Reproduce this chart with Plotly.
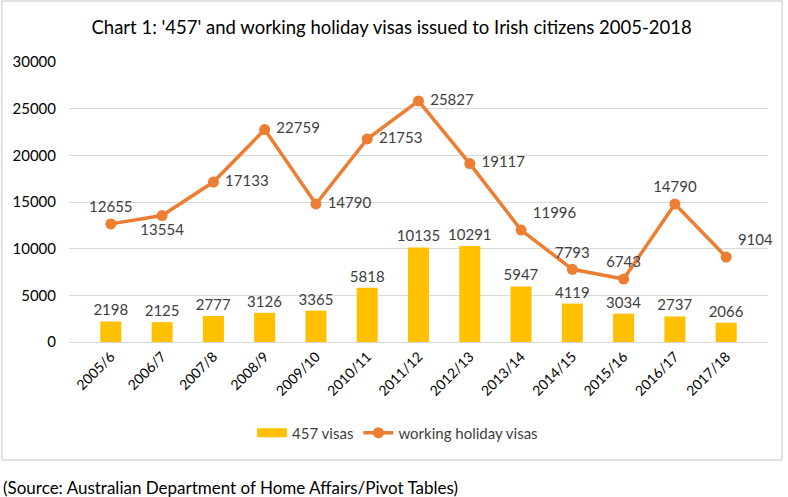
import plotly.graph_objects as go

years = ["2005/6", "2006/7", "2007/8", "2008/9", "2009/10", "2010/11", "2011/12",
         "2012/13", "2013/14", "2014/15", "2015/16", "2016/17", "2017/18"]
visas_457 = [2198, 2125, 2777, 3126, 3365, 5818, 10135, 10291, 5947, 4119, 3034, 2737, 2066]
working_holiday = [12655, 13554, 17133, 22759, 14790, 21753, 25827, 19117, 11996, 7793, 6743, 14790, 9104]
y_ticks = [0, 5000, 10000, 15000, 20000, 25000, 30000]

line_label_pos = ["top center", "bottom center", "middle right", "middle right", "middle right",
                  "middle right", "middle right", "middle right", "top right", "top center",
                  "top center", "top center", "top right"]

FONT = "Lato, 'Open Sans', sans-serif"
BAR_COLOR = "#FFC000"
LINE_COLOR = "#ED7D31"

fig = go.Figure()
fig.add_trace(go.Bar(
    x=years, y=visas_457, name="457 visas", showlegend=False,
    marker=dict(color=BAR_COLOR, line=dict(width=0)),
    text=[str(v) for v in visas_457], textposition="outside", constraintext="none",
    textfont=dict(size=15, color="#404040", family=FONT),
    cliponaxis=False,
))
# legend entry for the bars (wide rectangle swatch)
fig.add_trace(go.Scatter(
    x=[None], y=[None], name="457 visas", mode="lines",
    line=dict(color=BAR_COLOR, width=9), showlegend=True,
))
fig.add_trace(go.Scatter(
    x=years, y=working_holiday, name="working holiday visas",
    mode="lines+markers+text",
    line=dict(color=LINE_COLOR, width=3.5),
    marker=dict(color=LINE_COLOR, size=11),
    text=[" " + str(v) + " " for v in working_holiday], textposition=line_label_pos,
    textfont=dict(size=15, color="#404040", family=FONT),
    cliponaxis=False,
))

fig.update_layout(
    width=788, height=497,
    margin=dict(l=69, r=20, t=62, b=155),
    paper_bgcolor="white", plot_bgcolor="white",
    font=dict(family=FONT, color="#000000"),
    title=dict(text="Chart 1: '457' and working holiday visas issued to Irish citizens 2005-2018",
               x=0.497, xref="container", xanchor="center", y=0.944, yref="container",
               yanchor="middle",
               font=dict(size=18.5, color="#000000", family=FONT)),
    bargap=0.59,
    showlegend=True,
    legend=dict(orientation="h", x=0.47, xanchor="center", y=-0.325, yanchor="middle",
                font=dict(size=15, color="#404040", family=FONT),
                traceorder="normal"),
    xaxis=dict(type="category", tickangle=-45, tickfont=dict(size=14, color="#000000"),
               showline=True, linecolor="#d9d9d9", linewidth=1, showgrid=False, ticks=""),
    yaxis=dict(range=[0, 30000], tickvals=y_ticks, tickformat="d",
               tickfont=dict(size=15, color="#000000"),
               showgrid=True, gridcolor="#d9d9d9", gridwidth=1, zeroline=False,
               ticks="", ticklabelstandoff=12),
    shapes=[dict(type="rect", xref="paper", yref="paper",
                 x0=-0.096, x1=1.02, y0=-0.421, y1=1.218,
                 line=dict(color="#d9d9d9", width=1.5), fillcolor="rgba(0,0,0,0)", layer="below")],
    annotations=[dict(text="(Source: Australian Department of Home Affairs/Pivot Tables)",
                      xref="paper", yref="paper", x=-0.097, y=-0.518, xanchor="left",
                      yanchor="middle", showarrow=False,
                      font=dict(size=17, color="#000000", family=FONT))],
)

fig.write_html("out.html", config={"displayModeBar": False},
               post_script="document.body.style.margin='0';document.body.style.overflow='hidden';")
